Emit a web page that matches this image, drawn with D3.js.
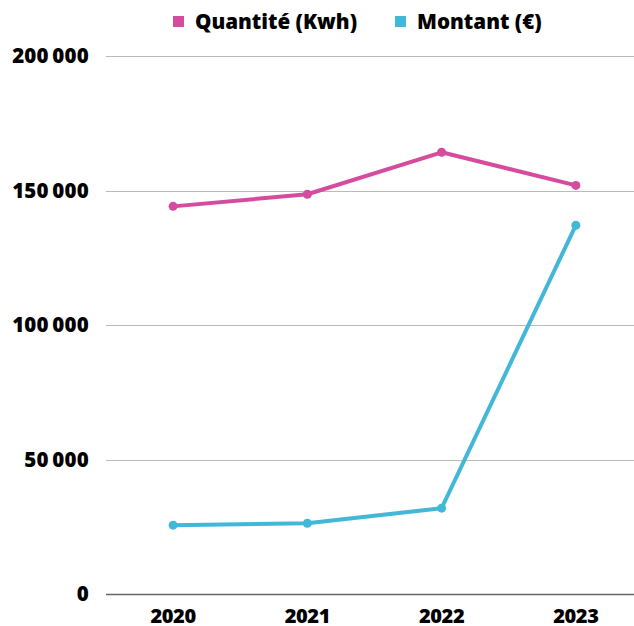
<!DOCTYPE html>
<html>
<head>
<meta charset="utf-8">
<script src="https://cdn.jsdelivr.net/npm/d3@7"></script>
<style>
  body { margin: 0; background: #fff; }
  text { font-family: "Open Sans", sans-serif; font-weight: 800; }
</style>
</head>
<body>
<svg id="chart" width="634" height="626"></svg>
<script>
var years = ["2020", "2021", "2022", "2023"];
var quantite = [144100, 148600, 164200, 151900];
var montant = [25600, 26300, 31900, 137100];
var yTicks = [0, 50000, 100000, 150000, 200000];
var seriesNames = ["Quantité (Kwh)", "Montant (€)"];
var colors = ["#d54c9e", "#43b7d7"];

var svg = d3.select("#chart");
var W = 634, plotLeft = 106, plotRight = 643, plotTop = 56, plotBottom = 594;

var x = d3.scaleBand().domain(years).range([plotLeft, plotRight]);
var y = d3.scaleLinear().domain([0, 200000]).range([plotBottom, plotTop]);

var fmt = function(v) {
  return d3.format(",")(v).replace(/,/g, "\u2009");
};

// grid
svg.append("g").selectAll("line")
  .data(yTicks)
  .enter().append("line")
  .attr("x1", plotLeft).attr("x2", W)
  .attr("y1", function(d) { return Math.round(y(d)) + 0.5; })
  .attr("y2", function(d) { return Math.round(y(d)) + 0.5; })
  .attr("stroke", function(d) { return d === 0 ? "#666" : "#bbb"; })
  .attr("stroke-width", function(d) { return d === 0 ? 1.5 : 1; });

// y labels
svg.append("g").selectAll("text")
  .data(yTicks)
  .enter().append("text")
  .attr("x", 89)
  .attr("y", function(d) { return y(d); })
  .attr("dy", "0.36em")
  .attr("text-anchor", "end")
  .attr("font-size", 20.5)
  .attr("letter-spacing", 0.2)
  .text(fmt);

// x labels
svg.append("g").selectAll("text")
  .data(years)
  .enter().append("text")
  .attr("x", function(d) { return x(d) + x.bandwidth() / 2; })
  .attr("y", 623)
  .attr("text-anchor", "middle")
  .attr("font-size", 20)
  .attr("letter-spacing", -0.4)
  .text(function(d) { return d; });

var series = [quantite, montant];
var line = d3.line()
  .x(function(d, i) { return x(years[i]) + x.bandwidth() / 2; })
  .y(function(d) { return y(d); });

series.forEach(function(s, k) {
  svg.append("path")
    .datum(s)
    .attr("d", line)
    .attr("fill", "none")
    .attr("stroke", colors[k])
    .attr("stroke-width", 4)
    .attr("stroke-linejoin", "round");
  svg.append("g").selectAll("circle")
    .data(s)
    .enter().append("circle")
    .attr("cx", function(d, i) { return x(years[i]) + x.bandwidth() / 2; })
    .attr("cy", function(d) { return y(d); })
    .attr("r", 4.5)
    .attr("fill", colors[k]);
});

// legend
var legendX = [173, 395];
var lg = svg.append("g");
seriesNames.forEach(function(n, k) {
  lg.append("rect")
    .attr("x", legendX[k]).attr("y", 16)
    .attr("width", 11).attr("height", 11)
    .attr("fill", colors[k]);
  lg.append("text")
    .attr("x", legendX[k] + 22).attr("y", 29)
    .attr("font-size", 20.6)
    .text(n);
});
</script>
</body>
</html>
